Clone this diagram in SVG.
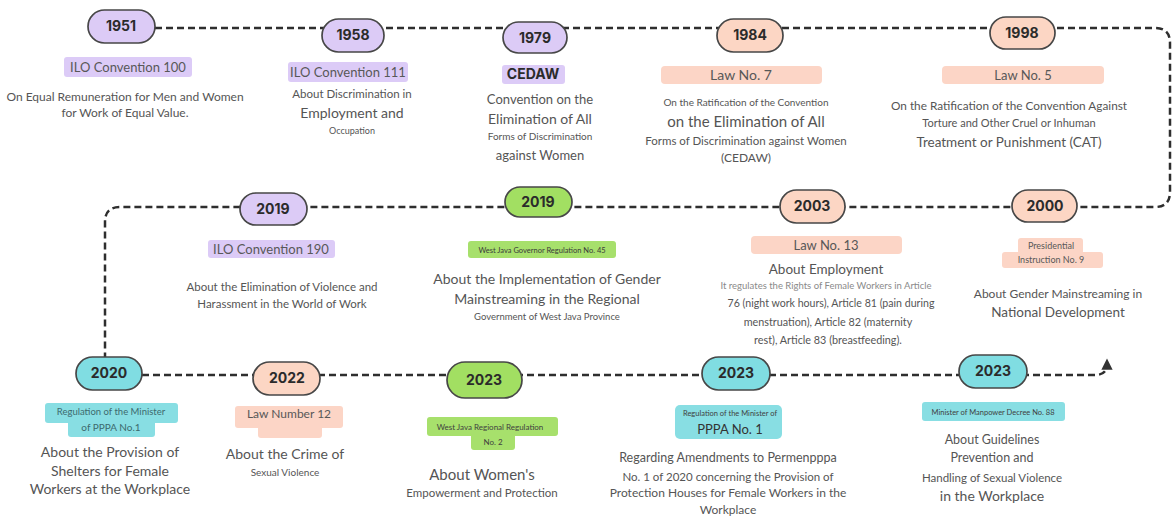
<svg xmlns="http://www.w3.org/2000/svg" width="1173" height="517" viewBox="0 0 1173 517">
<defs>
<marker id="arr" viewBox="0 0 10 10" refX="5" refY="5" markerWidth="4.5" markerHeight="4.5" orient="auto"><path d="M0,0 L10,5 L0,10 z" fill="#333"/></marker>
<style>
.pill{stroke:#474747;stroke-width:1.7}
.pp{fill:#dccbf6}.po{fill:#fcd6c4}.pg{fill:#a2df62}.pc{fill:#80dde2}
.lp{fill:#dccbf7}.lo{fill:#fcd5c6}.lg{fill:#a7e06c}.lc{fill:#88dee3}
.yr{font-family:Inter,"Noto Sans",sans-serif;font-weight:700;font-size:14px;fill:#2b2b2b;text-anchor:middle}
.lt{font-family:Lato,"Noto Sans",sans-serif;fill:#585858;text-anchor:middle}
.d{font-family:Lato,"Noto Sans",sans-serif;fill:#555555;text-anchor:middle}
.lc-t{fill:#3d6a6e}
.dash{fill:none;stroke:#2e2e2e;stroke-width:2.5;stroke-dasharray:7 4}
</style>
</defs>
<rect width="1173" height="517" fill="#ffffff"/>
<g id="connectors">
<path class="dash" d="M155,28 H1155 Q1170,28 1170,43 V192 Q1170,207 1155,207 H120 Q105,207 105,222 V357"/>
<path class="dash" d="M142,375 H1095 Q1107,375 1107,364" marker-end="url(#arr)"/>
</g>
<g id="n1951">
<rect class="pill pp" x="88" y="10" width="67" height="33" rx="16.5"/>
<text class="yr" x="121" y="31">1951</text>
<rect class="lp" x="64" y="57" width="128" height="20" rx="3"/>
<text class="lt" x="128" y="71.5" font-size="13">ILO Convention 100</text>
<text class="d" x="125" y="101" font-size="12">On Equal Remuneration for Men and Women</text>
<text class="d" x="125" y="117" font-size="12">for Work of Equal Value.</text>
</g>
<g id="n1958">
<rect class="pill pp" x="322" y="19" width="62" height="33" rx="16.5"/>
<text class="yr" x="353" y="40">1958</text>
<rect class="lp" x="288" y="62" width="120" height="20" rx="3"/>
<text class="lt" x="348" y="76.5" font-size="13">ILO Convention 111</text>
<text class="d" x="352" y="98" font-size="11.5">About Discrimination in</text>
<text class="d" x="352" y="118" font-size="14">Employment and</text>
<text class="d" x="352" y="134" font-size="9">Occupation</text>
</g>
<g id="n1979">
<rect class="pill pp" x="503" y="22" width="64" height="31" rx="15.5"/>
<text class="yr" x="535" y="43">1979</text>
<rect class="lp" x="502" y="65" width="63" height="19" rx="3"/>
<text class="yr" x="533" y="79" font-size="13">CEDAW</text>
<text class="d" x="540" y="104" font-size="13">Convention on the</text>
<text class="d" x="540" y="124" font-size="14">Elimination of All</text>
<text class="d" x="540" y="140" font-size="10">Forms of Discrimination</text>
<text class="d" x="540" y="160" font-size="13">against Women</text>
</g>
<g id="n1984">
<rect class="pill po" x="717" y="19" width="66" height="33" rx="16.5"/>
<text class="yr" x="750" y="40">1984</text>
<rect class="lo" x="661" y="66" width="161" height="18" rx="4"/>
<text class="lt" x="741" y="80" font-size="14">Law No. 7</text>
<text class="d" x="746" y="106" font-size="10">On the Ratification of the Convention</text>
<text class="d" x="746" y="127" font-size="15">on the Elimination of All</text>
<text class="d" x="746" y="145" font-size="11.5">Forms of Discrimination against Women</text>
<text class="d" x="746" y="162" font-size="12">(CEDAW)</text>
</g>
<g id="n1998">
<rect class="pill po" x="990" y="17" width="65" height="32" rx="16"/>
<text class="yr" x="1022" y="38">1998</text>
<rect class="lo" x="942" y="66" width="162" height="18" rx="4"/>
<text class="lt" x="1023" y="79.5" font-size="13">Law No. 5</text>
<text class="d" x="1009" y="110" font-size="11.8">On the Ratification of the Convention Against</text>
<text class="d" x="1009" y="127" font-size="11">Torture and Other Cruel or Inhuman</text>
<text class="d" x="1009" y="147" font-size="13.5">Treatment or Punishment (CAT)</text>
</g>
<g id="n2019a">
<rect class="pill pp" x="240" y="193" width="67" height="32" rx="16"/>
<text class="yr" x="273" y="214">2019</text>
<rect class="lp" x="208" y="240" width="127" height="18" rx="3"/>
<text class="lt" x="271" y="253.5" font-size="13">ILO Convention 190</text>
<text class="d" x="282" y="291" font-size="11.5">About the Elimination of Violence and</text>
<text class="d" x="282" y="308" font-size="11.5">Harassment in the World of Work</text>
</g>
<g id="n2019b">
<rect class="pill pg" x="505" y="187" width="67" height="30" rx="15"/>
<text class="yr" x="538" y="207">2019</text>
<rect class="lg" x="468" y="241" width="148" height="17" rx="3"/>
<text class="lt" x="542" y="252.5" font-size="7.5" style="fill:#3a3a3a">West Java Governor Regulation No. 45</text>
<text class="d" x="547" y="284" font-size="14">About the Implementation of Gender</text>
<text class="d" x="547" y="304" font-size="14">Mainstreaming in the Regional</text>
<text class="d" x="547" y="320" font-size="9.5">Government of West Java Province</text>
</g>
<g id="n2003">
<rect class="pill po" x="780" y="190" width="65" height="33" rx="16.5"/>
<text class="yr" x="812" y="211">2003</text>
<rect class="lo" x="751" y="236" width="151" height="18" rx="4"/>
<text class="lt" x="826" y="249.5" font-size="13">Law No. 13</text>
<text class="d" x="826" y="274" font-size="13.5">About Employment</text>
<text class="d" x="826" y="289" font-size="9.5" style="fill:#8a8a8a">It regulates the Rights of Female Workers in Article</text>
<text class="d" x="831" y="307" font-size="10.6">76 (night work hours), Article 81 (pain during</text>
<text class="d" x="828" y="326" font-size="10.8">menstruation), Article 82 (maternity</text>
<text class="d" x="828" y="344" font-size="10.8">rest), Article 83 (breastfeeding).</text>
</g>
<g id="n2000">
<rect class="pill po" x="1012" y="190" width="65" height="32" rx="16"/>
<text class="yr" x="1045" y="211">2000</text>
<rect class="lo" x="1018" y="238" width="65" height="16" rx="3"/>
<rect class="lo" x="1002" y="252" width="101" height="16" rx="3"/>
<text class="lt" x="1051" y="249" font-size="9">Presidential</text>
<text class="lt" x="1051" y="262.5" font-size="9">Instruction No. 9</text>
<text class="d" x="1058" y="298" font-size="12">About Gender Mainstreaming in</text>
<text class="d" x="1058" y="317" font-size="13.5">National Development</text>
</g>
<g id="n2020">
<rect class="pill pc" x="76" y="357" width="66" height="33" rx="16.5"/>
<text class="yr" x="109" y="378">2020</text>
<rect class="lc" x="45" y="403" width="133" height="20" rx="3"/>
<rect class="lc" x="68" y="420" width="87" height="17" rx="3"/>
<text class="lt lc-t" x="111" y="415" font-size="9.5">Regulation of the Minister</text>
<text class="lt lc-t" x="111" y="431" font-size="10">of PPPA No.1</text>
<text class="d" x="110" y="457" font-size="14">About the Provision of</text>
<text class="d" x="110" y="476" font-size="14">Shelters for Female</text>
<text class="d" x="110" y="494" font-size="14">Workers at the Workplace</text>
</g>
<g id="n2022">
<rect class="pill po" x="253" y="362" width="67" height="33" rx="16.5"/>
<text class="yr" x="287" y="383">2022</text>
<rect class="lo" x="235" y="406" width="108" height="22" rx="3"/>
<rect class="lo" x="258" y="425" width="64" height="13" rx="3"/>
<text class="lt" x="289" y="418" font-size="12">Law Number 12</text>
<text class="d" x="285" y="459" font-size="14">About the Crime of</text>
<text class="d" x="285" y="476" font-size="10">Sexual Violence</text>
</g>
<g id="n2023a">
<rect class="pill pg" x="447" y="362" width="75" height="36" rx="18"/>
<text class="yr" x="484" y="385">2023</text>
<rect class="lg" x="427" y="417" width="131" height="19" rx="3"/>
<rect class="lg" x="471" y="433" width="44" height="17" rx="3"/>
<text class="lt" x="490" y="429.5" font-size="8" style="fill:#3f3f3f">West Java Regional Regulation</text>
<text class="lt" x="493" y="444.5" font-size="8" style="fill:#3f3f3f">No. 2</text>
<text class="d" x="482" y="480" font-size="15">About Women's</text>
<text class="d" x="482" y="497" font-size="11.5">Empowerment and Protection</text>
</g>
<g id="n2023b">
<rect class="pill pc" x="702" y="357" width="68" height="33" rx="16.5"/>
<text class="yr" x="736" y="378">2023</text>
<rect class="lc" x="675" y="405" width="107" height="34" rx="5"/>
<text class="lt" x="730" y="416" font-size="7.5" style="fill:#3f3f3f">Regulation of the Minister of</text>
<text class="lt" x="730" y="434" font-size="13" style="fill:#333">PPPA No. 1</text>
<text class="d" x="728" y="462" font-size="12.5">Regarding Amendments to Permenpppa</text>
<text class="d" x="728" y="481" font-size="11.5">No. 1 of 2020 concerning the Provision of</text>
<text class="d" x="728" y="497" font-size="12">Protection Houses for Female Workers in the</text>
<text class="d" x="728" y="514" font-size="12">Workplace</text>
</g>
<g id="n2023c">
<rect class="pill pc" x="959" y="355" width="68" height="33" rx="16.5"/>
<text class="yr" x="993" y="376">2023</text>
<rect class="lc" x="922" y="402" width="143" height="19" rx="3"/>
<text class="lt" x="993" y="414.5" font-size="7.5" style="fill:#3f3f3f">Minister of Manpower Decree No. 88</text>
<text class="d" x="992" y="444" font-size="12.5">About Guidelines</text>
<text class="d" x="992" y="462" font-size="12.5">Prevention and</text>
<text class="d" x="992" y="482" font-size="11.5">Handling of Sexual Violence</text>
<text class="d" x="992" y="501" font-size="14">in the Workplace</text>
</g>
</svg>
